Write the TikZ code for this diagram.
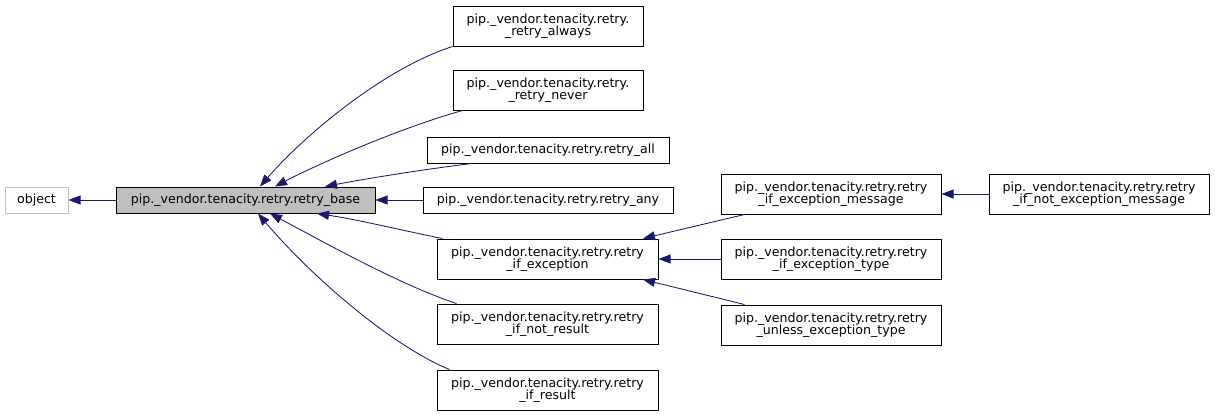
\documentclass[tikz,border=0pt]{standalone}
\usepackage{fontspec}
\setmainfont{DejaVu Sans}
\usepackage{xcolor}
\usepackage{tikz}
\usetikzlibrary{positioning, arrows.meta}

\definecolor{edgeblue}{HTML}{191970}
\definecolor{basegray}{HTML}{BFBFBF}

\begin{document}
\begin{tikzpicture}[x=1pt, y=-1pt,
    cls/.style={draw, line width=1pt, inner sep=0pt, align=center,
      minimum height=26pt, font=\fontsize{12.6}{12.6}\selectfont},
    twoline/.style={cls, minimum height=40pt},
    inh/.style={edgeblue, line width=0.85pt,
      -{Triangle[length=12pt, width=9pt]}}]
      \useasboundingbox (0,0) rectangle (1215,416);

      % left column
      \node[cls, draw=basegray, minimum width=63pt] (object) at (36.5,200) {object};
      \node[cls, fill=basegray, minimum width=259pt] (base) at (245.5,200) {pip.\_vendor.tenacity.retry.retry\_base};

      % children of retry_base
      \node[twoline, minimum width=190pt] (always) at (548,26) {pip.\_vendor.tenacity.retry.\\\_retry\_always};
      \node[twoline, minimum width=190pt] (never) at (548,90) {pip.\_vendor.tenacity.retry.\\\_retry\_never};
      \node[cls, minimum width=242pt] (all) at (548,150) {pip.\_vendor.tenacity.retry.retry\_all};
      \node[cls, minimum width=250pt] (any) at (548,200) {pip.\_vendor.tenacity.retry.retry\_any};
      \node[twoline, minimum width=221pt] (ifexc) at (547.5,259) {pip.\_vendor.tenacity.retry.retry\\\_if\_exception};
      \node[twoline, minimum width=221pt] (ifnotres) at (547.5,324) {pip.\_vendor.tenacity.retry.retry\\\_if\_not\_result};
      \node[twoline, minimum width=221pt] (ifres) at (547.5,390) {pip.\_vendor.tenacity.retry.retry\\\_if\_result};

      % children of retry_if_exception
      \node[twoline, minimum width=220pt] (excmsg) at (831,194) {pip.\_vendor.tenacity.retry.retry\\\_if\_exception\_message};
      \node[twoline, minimum width=220pt] (exctype) at (831,259) {pip.\_vendor.tenacity.retry.retry\\\_if\_exception\_type};
      \node[twoline, minimum width=220pt] (unless) at (831,325) {pip.\_vendor.tenacity.retry.retry\\\_unless\_exception\_type};
      \node[twoline, minimum width=220pt] (notexcmsg) at (1099,194) {pip.\_vendor.tenacity.retry.retry\\\_if\_not\_exception\_message};

      \draw[inh] (base.west) -- (object.east);

      \draw[inh] (always.south west) .. controls (380,70) and (300,140) .. ([xshift=14.5pt]base.north);
      \draw[inh] ([xshift=10pt]never.south west) .. controls (400,128) and (320,163) .. ([xshift=29.5pt]base.north);
      \draw[inh] ([xshift=45pt]all.south west) .. controls (420,170) and (370,178) .. ([xshift=79.5pt]base.north);
      \draw[inh] (any.west) -- (base.east);
      \draw[inh] ([xshift=6pt]ifexc.north west) .. controls (400,230) and (360,220) .. ([xshift=71.5pt]base.south);
      \draw[inh] ([xshift=20pt]ifnotres.north west) .. controls (400,285) and (320,240) .. ([xshift=24.5pt]base.south);
      \draw[inh] ([xshift=13pt]ifres.north west) .. controls (390,345) and (310,275) .. ([xshift=12.5pt]base.south);

      \draw[inh] ([xshift=24pt]excmsg.south west) -- ([xshift=95.5pt]ifexc.north);
      \draw[inh] (exctype.west) -- (ifexc.east);
      \draw[inh] ([xshift=24pt]unless.north west) -- ([xshift=95.5pt]ifexc.south);
      \draw[inh] (notexcmsg.west) -- (excmsg.east);
\end{tikzpicture}
\end{document}
